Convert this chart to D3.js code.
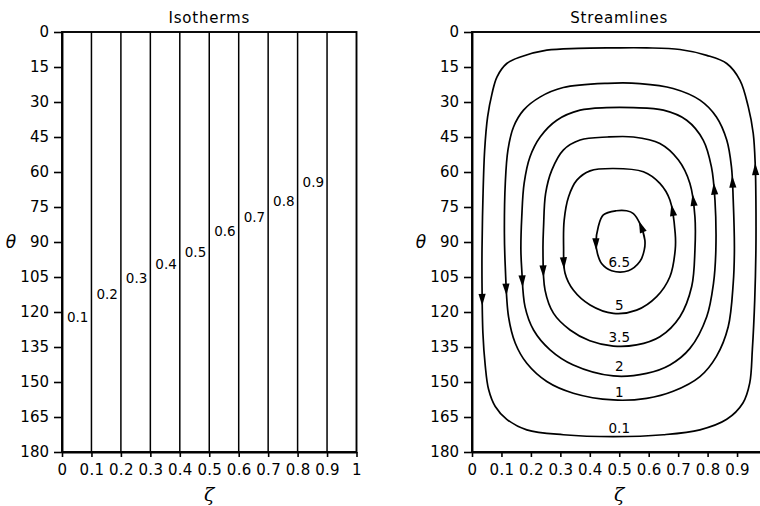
<!DOCTYPE html>
<html>
<head>
<meta charset="utf-8">
<script src="https://cdn.jsdelivr.net/npm/d3@7"></script>
<style>
  body { margin: 0; background: #fff; }
  svg { display: block; font-family: "DejaVu Sans", sans-serif; }
</style>
</head>
<body>
<svg id="chart" width="760" height="506"></svg>
<script>
// Axis ticks shared by both panels
const thetaTicks = [0, 15, 30, 45, 60, 75, 90, 105, 120, 135, 150, 165, 180];
const zetaTicks = [0, 0.1, 0.2, 0.3, 0.4, 0.5, 0.6, 0.7, 0.8, 0.9, 1];

// Isotherms: vertical lines at constant zeta, with label heights (theta)
const isothermLevels = [0.1, 0.2, 0.3, 0.4, 0.5, 0.6, 0.7, 0.8, 0.9];
const isothermLabelTheta = [122.4, 112.6, 105.7, 99.7, 94.2, 85.2, 79.6, 72.6, 64.6];

// Streamlines: closed contours as [zeta, theta] points,
// ordered top -> left side -> bottom -> right side (direction of flow)
const streamLevels = ["0.1", "1", "2", "3.5", "5", "6.5"];
const stream01 = [[0.48, 6.8], [0.36, 7.0], [0.254, 7.8], [0.164, 10.7], [0.118, 13.5], [0.085, 19.2],
  [0.068, 26.4], [0.053, 36.4], [0.043, 50.6], [0.037, 72], [0.034, 93.4], [0.034, 107.7],
  [0.037, 129], [0.045, 143], [0.056, 153], [0.079, 160.5], [0.118, 166], [0.186, 170.5],
  [0.31, 172.6], [0.48, 173.4], [0.65, 172.6], [0.774, 170.5], [0.865, 166], [0.92, 159],
  [0.943, 150.5], [0.952, 136], [0.96, 114.9], [0.964, 93.5], [0.964, 72], [0.962, 57.8],
  [0.955, 43.5], [0.938, 32], [0.91, 20.7], [0.865, 13.5], [0.797, 10], [0.706, 7.5], [0.593, 6.8]];
const stream1 = [[0.46, 22], [0.31, 23.8], [0.232, 27.8], [0.175, 33.5], [0.141, 40.7], [0.122, 50.6],
  [0.113, 64.9], [0.110, 86.3], [0.113, 100.6], [0.124, 122], [0.147, 133.4], [0.186, 142],
  [0.254, 149.8], [0.344, 154.8], [0.48, 157.7], [0.593, 157], [0.683, 154], [0.774, 147.7],
  [0.83, 139], [0.87, 126.3], [0.887, 107.7], [0.891, 93.4], [0.887, 72], [0.881, 57.8],
  [0.865, 46.3], [0.83, 36.4], [0.774, 29.2], [0.683, 24.2], [0.57, 22.1]];
const stream2 = [[0.457, 32.4], [0.367, 33.5], [0.288, 37.8], [0.232, 44.9], [0.197, 53.5],
  [0.177, 64.9], [0.169, 79.2], [0.166, 93.4], [0.169, 102], [0.18, 117.7], [0.209, 127.7],
  [0.265, 136.2], [0.344, 142.7], [0.48, 147.4], [0.593, 146.3], [0.672, 142.7], [0.74, 135.6],
  [0.797, 122], [0.82, 107.7], [0.828, 93.4], [0.825, 72], [0.813, 57.8], [0.785, 46.3],
  [0.729, 37.8], [0.65, 33.5], [0.548, 32.4]];
const stream35 = [[0.46, 45], [0.367, 46.3], [0.31, 50.6], [0.271, 59.2], [0.25, 69.2], [0.243, 83.5],
  [0.241, 93.4], [0.248, 110.6], [0.277, 120.6], [0.333, 127.7], [0.4, 132.3], [0.48, 134.6],
  [0.559, 134.1], [0.638, 130.6], [0.706, 122], [0.746, 109.1], [0.757, 93.4], [0.757, 79.2],
  [0.74, 64.9], [0.701, 54.9], [0.638, 47.8], [0.548, 45]];
const stream5 = [[0.48, 58.5], [0.401, 59.5], [0.356, 63.5], [0.328, 70.6], [0.313, 80.6], [0.311, 92],
  [0.316, 103.4], [0.344, 110.6], [0.401, 117], [0.48, 120.6], [0.559, 119.2], [0.627, 113.4],
  [0.672, 104.9], [0.69, 93.4], [0.69, 86.3], [0.672, 72], [0.638, 64.9], [0.582, 59.9]];
const stream65 = [[0.49, 76.6], [0.446, 78.4], [0.429, 83.4], [0.421, 90.6], [0.426, 94.9],
  [0.44, 99.2], [0.474, 102.3], [0.531, 102.3], [0.57, 98.4], [0.585, 93.4], [0.587, 89.2],
  [0.57, 82.1], [0.548, 77.8], [0.525, 76.6]];
const streamLabelTheta = [169.8, 154.5, 143.1, 130.8, 117, 98.9];

// Arrowhead locations on each streamline: one on the descending side, one on the rising side
const arrowsLeft = [[0.036, 114.9], [0.116, 110.6], [0.173, 107], [0.243, 102.6], [0.311, 99.2], [0.421, 91]];
const arrowsRight = [[0.965, 59], [0.886, 64.2], [0.825, 67], [0.755, 72], [0.683, 76.3], [0.574, 83.4]];

const streamlines = [stream01, stream1, stream2, stream35, stream5, stream65];

const W = 760;
const svg = d3.select("#chart");
const y = d3.scaleLinear().domain([0, 180]).range([32, 452]);

function drawFrame(g, x, title) {
  const axisStyle = sel => {
    sel.select(".domain").attr("stroke", "#000").attr("stroke-width", 1.9);
    sel.selectAll(".tick line").attr("stroke", "#000").attr("stroke-width", 1.6);
    sel.selectAll(".tick text").attr("fill", "#000").attr("font-size", 15)
      .attr("font-family", "'DejaVu Sans', sans-serif");
  };
  g.append("g")
    .attr("transform", `translate(${x(0)},0)`)
    .call(d3.axisLeft(y).tickValues(thetaTicks).tickSize(8).tickSizeOuter(0).tickPadding(5))
    .call(axisStyle);
  // only ticks that fall inside the drawing area get a label
  const visibleZeta = zetaTicks.filter(d => x(d) + 6 < W);
  g.append("g")
    .attr("transform", `translate(0,${y(180)})`)
    .call(d3.axisBottom(x).tickValues(visibleZeta).tickSize(5).tickSizeOuter(0).tickPadding(7)
      .tickFormat(d => (d === 0 || d === 1) ? String(d) : d3.format(".1f")(d)))
    .call(axisStyle)
    .selectAll(".tick text").attr("letter-spacing", 0.3);

  // top and right borders
  g.append("rect")
    .attr("x", x(0)).attr("y", y(0))
    .attr("width", x(1) - x(0)).attr("height", y(180) - y(0))
    .attr("fill", "none").attr("stroke", "#000").attr("stroke-width", 1.9);

  const cx = (x(0) + x(1)) / 2;
  g.append("text").attr("x", cx).attr("y", 23)
    .attr("text-anchor", "middle").attr("font-size", 15).attr("letter-spacing", 0.8)
    .text(title);
  g.append("text").attr("x", cx).attr("y", 501)
    .attr("text-anchor", "middle").attr("font-size", 19).attr("font-style", "italic")
    .attr("font-family", "'DejaVu Serif', serif")
    .text("ζ");
  g.append("text").attr("x", x(0) - 51).attr("y", y(90)).attr("dy", "0.35em")
    .attr("text-anchor", "middle").attr("font-size", 17).attr("font-style", "italic")
    .text("θ");
}

// ---- Isotherms panel ----
const xL = d3.scaleLinear().domain([0, 1]).range([62, 356.5]);
const gL = svg.append("g");
gL.selectAll("line.iso")
  .data(isothermLevels)
  .join("line")
  .attr("class", "iso")
  .attr("x1", d => xL(d)).attr("x2", d => xL(d))
  .attr("y1", y(0)).attr("y2", y(180))
  .attr("stroke", "#000").attr("stroke-width", 1.5);
gL.selectAll("text.isolabel")
  .data(isothermLevels)
  .join("text")
  .attr("class", "isolabel")
  .attr("x", d => xL(d) - 3)
  .attr("y", (d, i) => y(isothermLabelTheta[i]))
  .attr("dy", "0.35em")
  .attr("text-anchor", "end")
  .attr("font-size", 13.5)
  .text(d => d3.format(".1f")(d));
drawFrame(gL, xL, "Isotherms");

// ---- Streamlines panel ----
const xR = d3.scaleLinear().domain([0, 1]).range([472, 766.5]);
const gR = svg.append("g");
const line = d3.line()
  .x(d => xR(d[0])).y(d => y(d[1]))
  .curve(d3.curveCatmullRomClosed.alpha(0.5));

streamlines.forEach((pts, i) => {
  const path = gR.append("path")
    .attr("d", line(pts))
    .attr("fill", "none").attr("stroke", "#000").attr("stroke-width", 1.7);

  // sample the drawn curve so arrowheads follow its local direction
  const node = path.node();
  const total = node.getTotalLength();
  const n = 600;
  const samples = d3.range(n).map(k => node.getPointAtLength(total * k / n));
  [arrowsLeft[i], arrowsRight[i]].forEach(a => {
    const px = xR(a[0]), py = y(a[1]);
    let best = 0, bd = Infinity;
    samples.forEach((p, k) => {
      const dd = (p.x - px) ** 2 + (p.y - py) ** 2;
      if (dd < bd) { bd = dd; best = k; }
    });
    const p0 = samples[(best - 3 + n) % n], p1 = samples[(best + 3) % n];
    const ang = Math.atan2(p1.y - p0.y, p1.x - p0.x) * 180 / Math.PI;
    const c = samples[best];
    gR.append("path")
      .attr("d", "M6,0 L-6,-3.6 L-6,3.6 Z")
      .attr("transform", `translate(${c.x},${c.y}) rotate(${ang})`)
      .attr("fill", "#000");
  });

  gR.append("text")
    .attr("x", xR(0.5))
    .attr("y", y(streamLabelTheta[i]))
    .attr("dy", "0.35em")
    .attr("text-anchor", "middle")
    .attr("font-size", 13.5)
    .text(streamLevels[i]);
});
drawFrame(gR, xR, "Streamlines");
</script>
</body>
</html>
